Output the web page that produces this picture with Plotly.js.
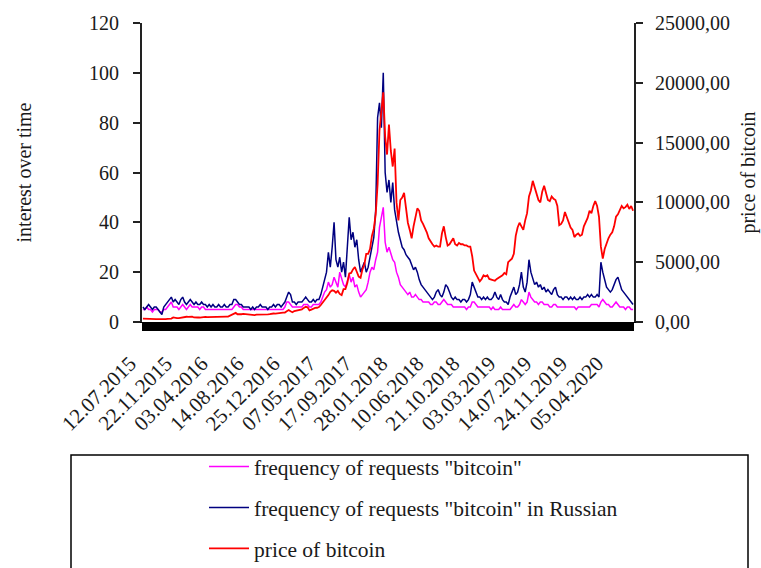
<!DOCTYPE html>
<html><head><meta charset="utf-8">
<script src="https://cdn.plot.ly/plotly-3.0.1.min.js"></script>
<style>html,body{margin:0;padding:0;background:#fff}#chart{width:761px;height:568px}</style>
</head><body><div id="chart"></div>
<script>
// Weekly observations, 12.07.2015 onwards (one value per week)
const world2015 = [5,5,6,5,5,4,5,5,5,4,4,5,5,6,7,8,6,6,6,5,6,7,6,5,6];
const world2016 = [7,6,6,6,6,5,6,6,5,5, 5,5,5,5,5,5,5,5,5,5, 5,5,5,6,7,7,6,6,5,5, 5,5,5,5,5,5,5,5,5,5, 5,5,5,5,5,5,5,5,5,5, 6,8];
const world2017 = [8,7,6,6,6,6,6,6,7,7, 7,6,6,7,7,7,7,8,10,12, 13,16,14,15,18,16,14,20,17,15, 14,17,19,16,18,14,15,12,10,11, 12,13,16,20,22,21,25,28,38,42, 46,32,28];
const world2018 = [30,27,25,24,20,18,15,14,13,12, 11,12,10,10,11,10,9,9,8,8, 8,8,7,7,8,8,7,7,8,9, 8,7,7,7,6,6,6,6,6,6, 6,5,6,6,8,8,7,6,6,6, 6,6];
const world2019 = [6,6,5,6,5,5,5,6,5,5, 5,5,5,6,7,6,6,7,9,8, 7,8,12,10,9,8,8,7,8,8, 7,7,7,6,6,7,7,6,6,6, 6,6,6,6,6,6,6,5,6,6, 6,6];
const world2020 = [6,6,6,7,7,7,7,6,8,9, 8,7,7,6,6,7,8,7,6,6, 6,5,6,6,5,5];

const ru2015 = [6,5,6,7,6,5,6,6,5,4,3,6,7,8,9,10,8,9,8,7,9,10,8,7,8];
const ru2016 = [9,8,7,8,7,7,8,7,7,6, 7,6,7,6,6,7,6,6,7,6, 6,7,7,9,9,8,7,7,6,6, 6,6,5,6,5,6,6,7,6,6, 6,5,6,6,7,6,7,7,6,7, 8,10];
const ru2017 = [12,11,8,8,7,8,8,8,9,10, 9,8,8,9,8,9,9,11,14,17, 20,28,22,30,40,25,22,26,20,24, 18,30,42,33,36,30,33,25,20,22, 24,20,22,26,30,34,45,82,88,78, 100,60,52];
const ru2018 = [57,48,56,45,40,36,33,30,29,27, 26,25,23,21,22,20,17,15,14,13, 12,11,10,9,10,12,13,11,10,12, 15,14,12,10,9,10,9,9,8,9, 9,8,9,11,16,14,12,10,10,9, 10,9];
const ru2019 = [10,9,9,10,12,10,9,11,9,8, 8,7,10,12,14,11,12,15,20,14, 12,16,25,20,17,15,16,14,15,13, 14,12,13,12,11,13,14,11,10,10, 9,10,10,9,10,9,10,9,9,10, 9,10];
const ru2020 = [10,11,10,11,10,10,11,10,24,20, 17,14,13,12,13,15,17,18,15,13, 12,11,10,9,8,7];

const price2015 = [290,275,290,280,265,255,230,235,240,230,230,235,240,265,275,285,380,330,330,325,360,390,440,440,425];
const price2016 = [430,450,380,400,375,375,405,440,430,405, 415,410,415,420,420,430,460,450,455,455, 445,530,575,680,760,650,680,650,675,660, 600,590,570,580,575,610,605,610,605,610, 640,640,650,700,710,705,740,735,765,780, 790,900];
const price2017 = [1000,900,820,920,960,1020,1000,1060,1180,1270, 1230,970,1040,1120,1180,1190,1250,1420,1620,1780, 2050,2250,2520,2650,2600,2450,2600,2350,2250,2750, 2750,3250,4050,4100,4400,4600,4200,3800,3700,4400, 4800,5700,5700,6100,7200,7800,9000,11500,16000,17500, 19200,15500,14000];
const price2018 = [16500,14300,13000,14500,10000,8500,10200,10400,10800,9500,8300,7700,7000, 8000,8900,9500,9300,8500,8200,7900,7500,7000,6700, 6500,6300,6400,6300,6300,7400,8000,7100,6400,6500, 6800,7000,6500,6400,6600,6500,6500,6400,6400,6300, 6300,5500,4300,4000,3700,3400,3600,3900,3800];
const price2019 = [3900,3600,3550,3450,3450,3600,3700,3800,3900,4100, 4000,5000,5200,5300,5700,7200,7900,8300,8000,7700, 8500,9100,10500,11000,11800,11300,10600,10200,10000,10900, 11400,10900,10200,10100,10500,10300,10200,9700,8100,8200, 8500,9200,8800,8300,7900,7700,7100,7300,7400,7200, 7300,8000];
const price2020 = [8400,8700,9300,9100,9700,10100,9700,8800,6300,5300, 6100,6600,7000,7300,7500,8000,8800,9000,9400,9700, 9500,9600,9800,9450,9700,9300];

const reqWorld = [].concat(world2015, world2016, world2017, world2018, world2019, world2020);
const reqRussian = [].concat(ru2015, ru2016, ru2017, ru2018, ru2019, ru2020);
const price = [].concat(price2015, price2016, price2017, price2018, price2019, price2020);

const dateTickPos = [0,19,38,57,76,95,114,133,152,171,190,209,228,247];
const dateTickText = ['12.07.2015','22.11.2015','03.04.2016','14.08.2016','25.12.2016','07.05.2017','17.09.2017','28.01.2018','10.06.2018','21.10.2018','03.03.2019','14.07.2019','24.11.2019','05.04.2020'];
const priceTickVals = [0,5000,10000,15000,20000,25000];
const priceTickText = ['0,00','5000,00','10000,00','15000,00','20000,00','25000,00'];
const seriesNames = ['frequency of requests "bitcoin"','frequency of requests "bitcoin" in Russian','price of bitcoin'];

const FONT = '"Liberation Serif", "Times New Roman", Tinos, "DejaVu Serif", "Noto Serif", serif';
const TXT = '#1a1a1a';
const xr = [-0.5, price.length - 0.5];

const traces = [
  {y: reqWorld, type: 'scatter', mode: 'lines', name: seriesNames[0], legendgroup: 'a',
   line: {color: '#ff00ff', width: 1.5}},
  {y: reqRussian, type: 'scatter', mode: 'lines', name: seriesNames[1], legendgroup: 'b',
   line: {color: '#000080', width: 1.5}},
  {y: price, type: 'scatter', mode: 'lines', name: seriesNames[2], legendgroup: 'c', yaxis: 'y2',
   line: {color: '#ff0000', width: 1.8}}
];

const layout = {
  width: 761, height: 568,
  margin: {l: 142, r: 127, t: 23, b: 246, autoexpand: false},
  paper_bgcolor: '#fff', plot_bgcolor: '#fff',
  font: {family: FONT, size: 20, color: TXT},
  showlegend: true,
  xaxis: {
    range: xr, showgrid: false, zeroline: false, showline: true, linecolor: '#000', linewidth: 1,
    tickmode: 'array', tickvals: dateTickPos, ticktext: dateTickText, tickangle: -45,
    ticks: 'outside', ticklen: 8, tickwidth: 2, tickcolor: '#000',
    minor: {ticks: 'outside', tick0: 0, dtick: 1, ticklen: 8, tickwidth: 2, tickcolor: '#000', showgrid: false},
    ticklabelstandoff: 12, ticklabelshift: -13,
    tickfont: {family: FONT, size: 21, color: TXT}
  },
  xaxis2: {
    overlaying: 'x', anchor: 'y', side: 'bottom', range: xr, showgrid: false, zeroline: false,
    showline: false, showticklabels: false, tickmode: 'linear', tick0: 0, dtick: 1,
    ticks: 'inside', ticklen: 3, tickwidth: 2, tickcolor: '#000'
  },
  yaxis: {
    range: [0, 120], tickmode: 'linear', tick0: 0, dtick: 20, showgrid: false, zeroline: false,
    showline: true, linecolor: '#222', linewidth: 2, ticks: 'outside', ticklen: 7, tickwidth: 2, tickcolor: '#222',
    ticklabelstandoff: 10, tickfont: {family: FONT, size: 20, color: TXT},
    title: {text: 'interest over time', font: {family: FONT, size: 20, color: TXT}, standoff: 52}
  },
  yaxis3: {
    overlaying: 'y', anchor: 'x', side: 'left', range: [0, 120], tickmode: 'linear', tick0: 0, dtick: 20,
    showgrid: false, zeroline: false, showline: false, showticklabels: false,
    ticks: 'inside', ticklen: 6, tickwidth: 2, tickcolor: '#222'
  },
  yaxis2: {
    overlaying: 'y', side: 'right', anchor: 'x', range: [0, 25000], showgrid: false, zeroline: false,
    tickmode: 'array', tickvals: priceTickVals, ticktext: priceTickText,
    showline: true, linecolor: '#222', linewidth: 2, ticks: 'outside', ticklen: 7, tickwidth: 2, tickcolor: '#222',
    ticklabelstandoff: 8, tickfont: {family: FONT, size: 20, color: TXT},
    title: {text: 'price of bitcoin', font: {family: FONT, size: 20, color: TXT}, standoff: 12}
  },
  yaxis4: {
    overlaying: 'y', anchor: 'x', side: 'right', range: [0, 25000], tickmode: 'array', tickvals: priceTickVals,
    showgrid: false, zeroline: false, showline: false, showticklabels: false,
    ticks: 'inside', ticklen: 6, tickwidth: 2, tickcolor: '#222'
  },
  legend: {
    x: (204 - 142) / 492, y: (322 - 446) / 299, xanchor: 'left', yanchor: 'top',
    orientation: 'v', traceorder: 'grouped', tracegroupgap: 10, itemwidth: 40,
    bgcolor: 'rgba(0,0,0,0)', borderwidth: 0,
    font: {family: FONT, size: 21.5, color: TXT}
  },
  shapes: [{
    type: 'rect', xref: 'paper', yref: 'paper', layer: 'below',
    x0: (71 - 142) / 492, x1: (748 - 142) / 492, y0: (322 - 455) / 299, y1: (322 - 700) / 299,
    line: {color: '#000', width: 1.5}, fillcolor: 'rgba(0,0,0,0)'
  }]
};

Plotly.newPlot('chart', traces, layout, {displayModeBar: false, staticPlot: true});
</script>
</body></html>
